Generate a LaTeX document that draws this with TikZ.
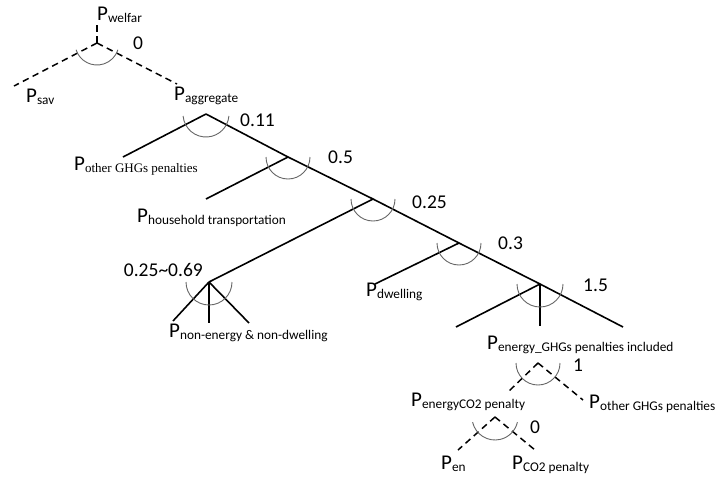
\documentclass[tikz,border=0pt]{standalone}
\usepackage{fontspec}
\setmainfont{Carlito}
\newfontfamily\timesf{Liberation Serif}
\newcommand\Psb[1]{P\raisebox{-2.5pt}{\fontsize{13.3}{15}\selectfont #1}}
\begin{document}
\begin{tikzpicture}[x=1pt,y=1pt,
  branch/.style={line width=1.6pt, black},
  dline/.style={line width=1.5pt, black, dash pattern=on 6.5pt off 4.5pt},
  wedge/.style={line width=0.9pt, black!60},
  lab/.style={anchor=base west, inner sep=0pt, font=\fontsize{21}{24}\selectfont},
  num/.style={anchor=base west, inner sep=0pt, font=\fontsize{19.5}{23}\selectfont}]
\useasboundingbox (0,0) rectangle (715,-477);
% ---------- coordinates ----------
\coordinate (wtop) at (97,-25);
\coordinate (A0) at (97,-43);
\coordinate (L0) at (14,-86);
\coordinate (R0) at (177,-84);
\coordinate (J1) at (206,-114);
\coordinate (L1) at (123,-157);
\coordinate (J2) at (288,-157);
\coordinate (L2) at (206,-199);
\coordinate (J3) at (373,-199);
\coordinate (J6) at (209,-282);
\coordinate (L6a) at (173,-321);
\coordinate (L6b) at (209,-323);
\coordinate (L6c) at (249,-323);
\coordinate (J4) at (459,-243);
\coordinate (L4) at (375,-284);
\coordinate (J5) at (540,-284);
\coordinate (L5a) at (456,-327);
\coordinate (L5b) at (540,-326);
\coordinate (E5) at (623,-327);
\coordinate (A1) at (538,-363);
\coordinate (L7) at (508,-392);
\coordinate (R7) at (583,-400);
\coordinate (A2) at (495,-417);
\coordinate (L8) at (458,-450);
\coordinate (R8) at (535,-450);
% ---------- connectors ----------
\draw[dline] (wtop) -- (A0);
\draw[dline] (A0) -- (L0);
\draw[dline] (A0) -- (R0);
\draw[branch] (J1) -- (L1);
\draw[branch] (J1) -- (J2) -- (J3) -- (J4) -- (J5) -- (E5);
\draw[branch] (J2) -- (L2);
\draw[branch] (J3) -- (J6);
\draw[branch] (J6) -- (L6a);
\draw[branch] (J6) -- (L6b);
\draw[branch] (J6) -- (L6c);
\draw[branch] (J4) -- (L4);
\draw[branch] (J5) -- (L5a);
\draw[branch] (J5) -- (L5b);
\draw[dline] (A1) -- (L7);
\draw[dline] (A1) -- (R7);
\draw[dline] (A2) -- (L8);
\draw[dline] (A2) -- (R8);
% ---------- elasticity arcs ----------
\draw[wedge] (A0) ++(198:22) arc[start angle=198,end angle=342,radius=22];
\draw[wedge] (J1) ++(185:23) arc[start angle=185,end angle=355,radius=23];
\draw[wedge] (J2) ++(180:22) arc[start angle=180,end angle=360,radius=22];
\draw[wedge] (J3) ++(180:22) arc[start angle=180,end angle=360,radius=22];
\draw[wedge] (J4) ++(180:22) arc[start angle=180,end angle=360,radius=22];
\draw[wedge] (J5) ++(180:23) arc[start angle=180,end angle=360,radius=23];
\draw[wedge] (J6) ++(180:23) arc[start angle=180,end angle=360,radius=23];
\draw[wedge] (A1) ++(180:22) arc[start angle=180,end angle=360,radius=22];
\draw[wedge] (A2) ++(193:23) arc[start angle=193,end angle=347,radius=23];
% ---------- labels ----------
\node[lab] (welfar) at (97,-20) {\Psb{welfar}};
\node[lab] (sav) at (26,-102) {\Psb{sav}};
\node[lab] (aggr) at (174,-100) {\Psb{aggregate}};
\node[lab] (oghg) at (74,-170) {P\raisebox{-2.5pt}{\timesf\fontsize{13}{15}\selectfont other GHGs penalties}};
\node[lab] (house) at (137,-222) {\Psb{household transportation}};
\node[lab] (nonen) at (169,-337) {\Psb{non-energy \& non-dwelling}};
\node[lab] (dwell) at (366,-296) {\Psb{dwelling}};
\node[lab] (enghg) at (487,-349) {\Psb{energy\_GHGs penalties included}};
\node[lab] (enco) at (411,-406) {\Psb{energyCO2 penalty}};
\node[lab] (oghgr) at (589,-408) {\Psb{other GHGs penalties}};
\node[lab] (en) at (441,-469) {\Psb{en}};
\node[lab] (cotwo) at (512,-469) {\Psb{CO2 penalty}};
% ---------- numbers ----------
\node[num] (s0) at (133,-49) {0};
\node[num] (s1) at (240,-126) {0.11};
\node[num] (s2) at (328,-163) {0.5};
\node[num] (s3) at (412,-208) {0.25};
\node[num] (s4) at (498,-249) {0.3};
\node[num] (s5) at (583,-291) {1.5};
\node[num, anchor=base east] (s6) at (203,-276) {0.25{\char"7E}0.69};
\node[num] (s7) at (573,-371) {1};
\node[num] (s8) at (530,-433) {0};
\end{tikzpicture}
\end{document}
